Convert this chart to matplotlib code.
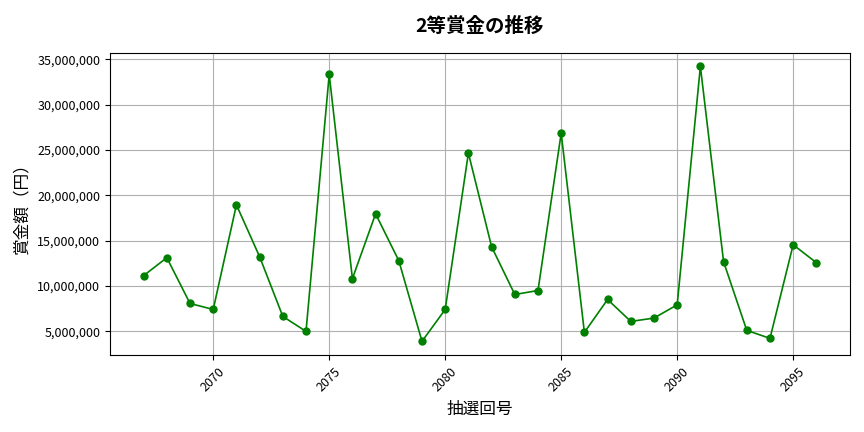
import matplotlib
matplotlib.use("Agg")
import matplotlib.pyplot as plt
from matplotlib.ticker import FuncFormatter

plt.rcParams['font.family'] = ['Noto Sans CJK JP', 'DejaVu Sans']

draws = list(range(2067, 2097))
prizes = [11150000, 13130000, 8080000, 7420000, 18960000, 13240000, 6650000, 5000000,
          33350000, 10820000, 17970000, 12800000, 3900000, 7420000, 24670000,
          14340000, 9070000, 9510000, 26870000, 4890000, 8520000, 6100000, 6470000,
          7930000, 34230000, 12690000, 5110000, 4230000, 14560000, 12580000]

fig, ax = plt.subplots(figsize=(8.64, 4.32), dpi=100)
fig.subplots_adjust(left=0.1273, right=0.9838, top=0.878, bottom=0.178)
ax.plot(draws, prizes, color='green', marker='o', markersize=5, linewidth=1.2)
ax.set_title('2等賞金の推移', fontsize=14, fontweight='bold', pad=15)
ax.set_xlabel('抽選回号', fontsize=12, labelpad=5)
ax.set_ylabel('賞金額（円）', fontsize=12, labelpad=5)
ax.yaxis.set_major_formatter(FuncFormatter(lambda v, p: f'{int(v):,}'))
ax.tick_params(axis='both', labelsize=9)
plt.setp(ax.get_xticklabels(), rotation=45)
ax.grid(True)
fig.savefig('out.png', dpi=100)
